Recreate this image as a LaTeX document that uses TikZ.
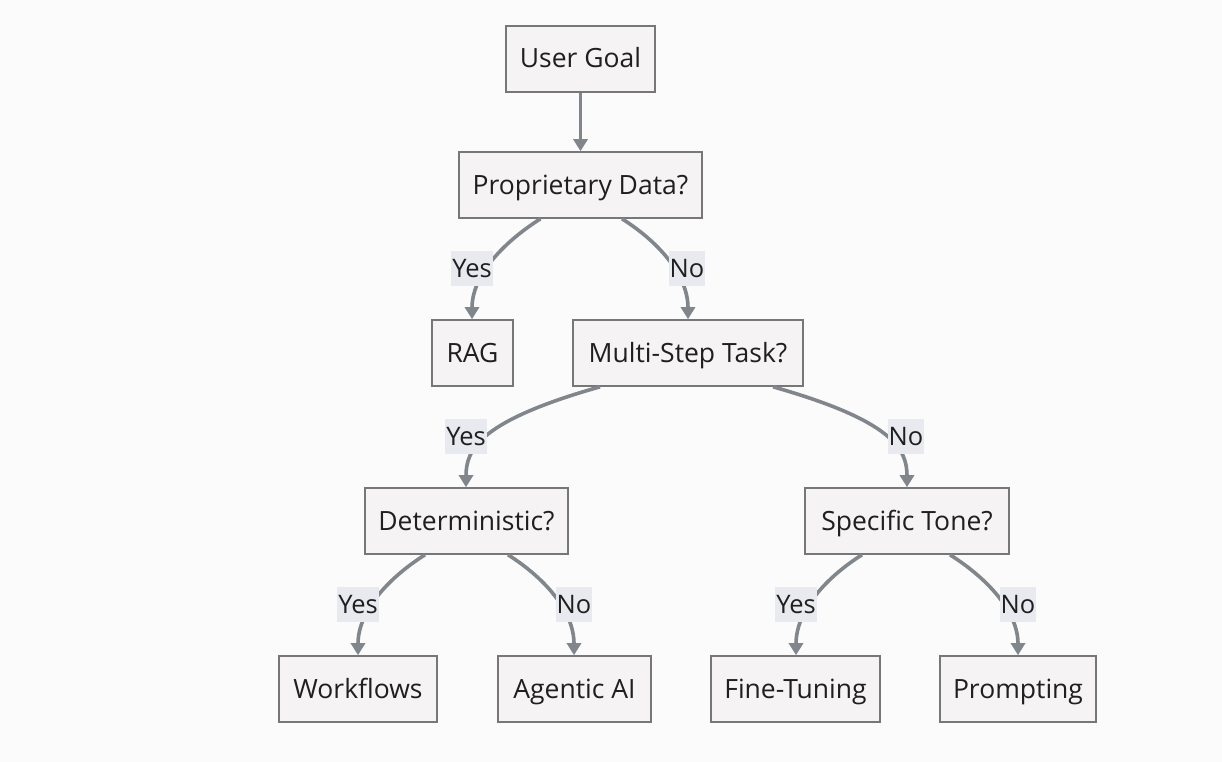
\documentclass[tikz,border=0pt]{standalone}
\usepackage{fontspec}
\setmainfont{Open Sans}
\usetikzlibrary{arrows.meta}
\definecolor{bg}{HTML}{FBFBFB}
\definecolor{boxfill}{HTML}{F5F3F4}
\definecolor{boxline}{HTML}{777777}
\definecolor{edge}{HTML}{80868B}
\definecolor{labfill}{HTML}{E8EAF0}
\definecolor{txt}{HTML}{1F1F1F}
\begin{document}
\begin{tikzpicture}[x=1pt,y=-1pt,
  box/.style={draw=boxline,line width=1.6pt,fill=boxfill,minimum height=66pt,inner sep=0pt,text=txt,font=\fontsize{26.5}{30}\selectfont,text height=19pt,text depth=1pt},
  lab/.style={fill=labfill,inner xsep=1pt,inner ysep=0pt,minimum height=35pt,text=txt,font=\fontsize{25.5}{30}\selectfont,text height=19pt,text depth=1pt},
  conn/.style={draw=edge,line width=3.6pt,-{Triangle[length=12pt,width=14pt]}}]
\fill[bg] (0,0) rectangle (1222,762);
\useasboundingbox (0,0) rectangle (1222,762);
% nodes
\node[box,minimum width=149pt] (ug) at (580.5,59) {User Goal};
\node[box,minimum width=243pt] (pd) at (580.5,185) {Proprietary Data?};
\node[box,minimum width=81pt] (rag) at (472.5,353) {RAG};
\node[box,minimum width=230pt] (ms) at (688,353) {Multi-Step Task?};
\node[box,minimum width=203pt] (det) at (466.5,521) {Deterministic?};
\node[box,minimum width=204pt] (st) at (907,521) {Specific Tone?};
\node[box,minimum width=158pt] (wf) at (358,689) {Workflows};
\node[box,minimum width=153pt] (ag) at (574.5,689) {Agentic AI};
\node[box,minimum width=169pt] (ft) at (795.5,689) {Fine-Tuning};
\node[box,minimum width=156pt] (pr) at (1018,689) {Prompting};
% connectors
\draw[conn] (ug) -- (pd);
\draw[conn] ([xshift=-40pt]pd.south) .. controls +(-35,22) and +(0,-45) .. ([xshift=-0.5pt]rag.north);
\draw[conn] ([xshift=41.5pt]pd.south) .. controls +(35,22) and +(0,-45) .. (ms.north);
\draw[conn] ([xshift=-88pt]ms.south) .. controls +(-120,34) and +(0,-38) .. ([xshift=-0.5pt]det.north);
\draw[conn] ([xshift=85pt]ms.south) .. controls +(120,34) and +(0,-38) .. (st.north);
\draw[conn] ([xshift=-41.5pt]det.south) .. controls +(-35,22) and +(0,-45) .. (wf.north);
\draw[conn] ([xshift=41.5pt]det.south) .. controls +(35,22) and +(0,-45) .. ([xshift=-0.5pt]ag.north);
\draw[conn] ([xshift=-45pt]st.south) .. controls +(-35,22) and +(0,-45) .. ([xshift=0.5pt]ft.north);
\draw[conn] ([xshift=43pt]st.south) .. controls +(35,22) and +(0,-45) .. (pr.north);
% labels
\node[lab] (l1) at (472,268) {Yes};
\node[lab] (l2) at (687,268) {No};
\node[lab] (l3) at (466,436) {Yes};
\node[lab] (l4) at (906,436) {No};
\node[lab] (l5) at (358,604) {Yes};
\node[lab] (l6) at (574,604) {No};
\node[lab] (l7) at (796,604) {Yes};
\node[lab] (l8) at (1018,604) {No};
\end{tikzpicture}
\end{document}
